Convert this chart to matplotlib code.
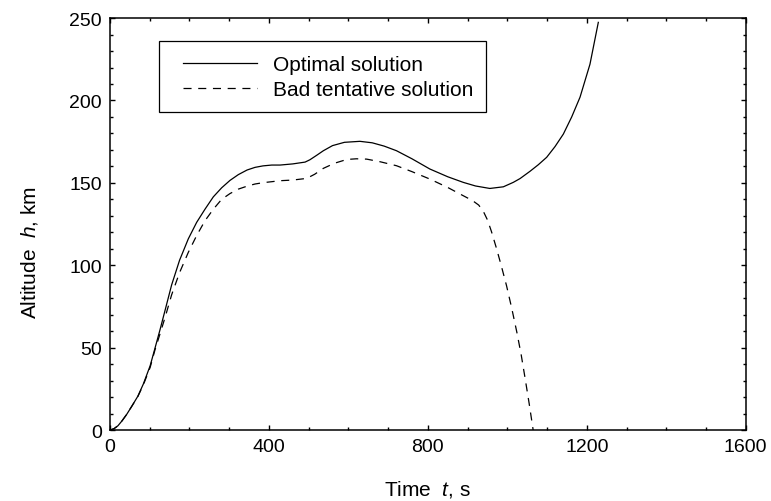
import matplotlib.pyplot as plt
from matplotlib.patches import Rectangle
from matplotlib.ticker import MultipleLocator

# optimal trajectory (time s, altitude km)
t_opt = [0, 10, 20, 30, 42, 55, 70, 84, 101, 113, 126, 140, 155, 175, 197, 218,
         239, 260, 281, 302, 323, 345, 365, 385, 407, 428, 460, 491, 503, 520,
         537, 560, 590, 629, 660, 690, 721, 760, 805, 850, 889, 920, 956, 990,
         1015, 1032, 1057, 1078, 1099, 1120, 1141, 1162, 1183, 1208, 1229]
h_opt = [0, 0.8, 2.6, 5.5, 9.5, 14.5, 20.5, 28, 39, 49.5, 61, 74, 88, 103, 116,
         126, 134, 141.5, 147, 151.5, 155, 157.8, 159.4, 160.3, 160.8, 160.8,
         161.5, 162.6, 164, 166.7, 169.5, 172.6, 174.6, 175.2, 174.3, 172.3,
         169.5, 164.6, 158.4, 153.7, 150.3, 148.1, 146.6, 147.6, 150.3, 152.6,
         157, 161, 165.5, 172, 179.6, 190, 202, 222, 247.4]

# bad tentative trajectory
t_bad = [0, 10, 20, 30, 42, 55, 70, 84, 101, 113, 126, 140, 155, 175, 197, 218,
         239, 260, 281, 302, 323, 345, 365, 385, 407, 428, 460, 495, 515, 537,
         565, 596, 620, 646, 680, 721, 760, 805, 850, 889, 912, 928, 940, 950,
         960, 973, 985, 998, 1011, 1024, 1035, 1045, 1055, 1065]
h_bad = [0, 0.8, 2.6, 5.5, 9.5, 14.5, 20.3, 27.5, 38, 48.5, 58.5, 69.5, 82, 95.5,
         107.8, 118, 127, 134, 140, 143.5, 146.2, 148, 149.3, 150.1, 150.7,
         151.3, 151.7, 152.7, 155.2, 158.8, 161.9, 164.2, 164.6, 164.4, 162.8,
         160.4, 156.8, 152.3, 147.2, 142.2, 139.3, 136.5, 132.5, 127.5, 120.5,
         110, 99.5, 87.6, 74, 59.3, 45.5, 31, 16, 0]

plt.rcParams['font.family'] = 'Liberation Sans'
plt.rcParams['mathtext.fontset'] = 'custom'
plt.rcParams['mathtext.rm'] = 'Liberation Sans'
plt.rcParams['mathtext.it'] = 'Liberation Sans:italic'
plt.rcParams['lines.scale_dashes'] = False

fig = plt.figure(figsize=(7.71, 5.02), dpi=100)
ax = fig.add_axes([0.1427, 0.1414, 0.8245, 0.8206])

ax.plot(t_opt, h_opt, color='black', lw=0.9, label='Optimal solution')
ax.plot(t_bad, h_bad, color='black', lw=0.9, dashes=(5.8, 4.8),
        label='Bad tentative solution')

ax.set_xlim(0, 1600)
ax.set_ylim(0, 250)
ax.xaxis.set_major_locator(MultipleLocator(400))
ax.xaxis.set_minor_locator(MultipleLocator(100))
ax.yaxis.set_major_locator(MultipleLocator(50))
ax.yaxis.set_minor_locator(MultipleLocator(10))
ax.tick_params(which='both', direction='in', top=True, right=True,
               labelsize=14, width=1, pad=6)
ax.tick_params(which='major', length=3.5)
ax.tick_params(which='minor', length=2)
for s in ax.spines.values():
    s.set_linewidth(1.1)

ax.set_xlabel(r'Time  $t$, s', fontsize=15, labelpad=16)
ax.set_ylabel(r'Altitude  $h$, km', fontsize=15)
ax.yaxis.set_label_coords(-0.110, 0.434)

# legend box drawn separately, entries placed inside it
ax.add_patch(Rectangle((0.077, 0.772), 0.514, 0.172, transform=ax.transAxes,
                       facecolor='white', edgecolor='black', lw=0.9, zorder=4))
leg = ax.legend(loc='upper left', bbox_to_anchor=(0.1148, 0.910), fontsize=15,
                frameon=False, handlelength=3.55, handletextpad=0.77,
                borderpad=0, labelspacing=0.3, borderaxespad=0)
leg.set_zorder(5)

fig.savefig('out.png', dpi=100)
